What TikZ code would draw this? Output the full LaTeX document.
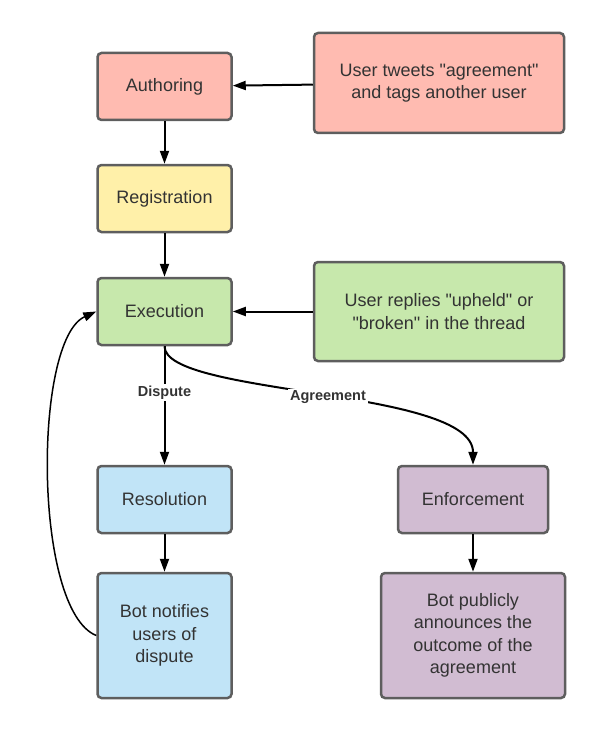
\documentclass[tikz,border=0pt]{standalone}
\usepackage{fontspec}
\setmainfont{Liberation Sans}[Ligatures=TeXOff]
\usetikzlibrary{arrows.meta}

\definecolor{boxred}{HTML}{FFBBB1}
\definecolor{boxyellow}{HTML}{FFF0A9}
\definecolor{boxgreen}{HTML}{C7E8AC}
\definecolor{boxblue}{HTML}{C1E4F7}
\definecolor{boxpurple}{HTML}{D1BCD2}
\definecolor{boxline}{HTML}{5E5E5E}
\definecolor{boxtext}{HTML}{333333}

\tikzset{
	stepbox/.style={draw=boxline, line width=2.5pt, rounded corners=4pt,
		text=boxtext, align=center, font=\fontsize{18}{22.5}\selectfont,
		inner sep=0pt},
	flow/.style={line width=2pt, -{Triangle[length=13pt,width=9pt]}},
	edgelabel/.style={fill=white, text=boxtext, inner sep=2pt,
		font=\bfseries\fontsize{14.5}{16}\selectfont}
}

\begin{document}
\begin{tikzpicture}[x=1pt,y=-1pt]

	\useasboundingbox (0,0) rectangle (597,733);

	% left column
	\node[stepbox, fill=boxred, minimum width=134pt, minimum height=67pt] (author) at (164.5,86.5) {Authoring};
	\node[stepbox, fill=boxyellow, minimum width=134pt, minimum height=67pt] (regist) at (164.5,198.5) {Registration};
	\node[stepbox, fill=boxgreen, minimum width=134pt, minimum height=67pt] (exec) at (164.5,311.5) {Execution};
	\node[stepbox, fill=boxblue, minimum width=134pt, minimum height=67pt] (resol) at (164.5,499.5) {Resolution};
	\node[stepbox, fill=boxblue, minimum width=134pt, minimum height=125pt] (notify) at (164.5,635.5) {Bot notifies\\users of\\dispute};

	% right column
	\node[stepbox, fill=boxred, minimum width=250pt, minimum height=100pt] (tweet) at (439,83) {User tweets "agreement"\\and tags another user};
	\node[stepbox, fill=boxgreen, minimum width=250pt, minimum height=99pt] (reply) at (439,311.5) {User replies "upheld" or\\"broken" in the thread};
	\node[stepbox, fill=boxpurple, minimum width=150pt, minimum height=67pt] (enforce) at (473,499.5) {Enforcement};
	\node[stepbox, fill=boxpurple, minimum width=184pt, minimum height=125pt] (announce) at (473,635.5) {Bot publicly\\announces the\\outcome of the\\agreement};

	% straight arrows
	\draw[flow] (tweet) -- (author);
	\draw[flow] (author) -- (regist);
	\draw[flow] (regist) -- (exec);
	\draw[flow] (reply) -- (exec);
	\draw[flow] (resol) -- (notify);
	\draw[flow] (enforce) -- (announce);

	% branches
	\draw[flow] (exec.south) -- node[edgelabel, pos=0.39] {Dispute} (resol.north);
	\draw[flow] (exec.south) .. controls (164.5,396) and (473,388) .. node[edgelabel, pos=0.52] {Agreement} (enforce.north);

	% back to execution
	\draw[line width=1.5pt, -{Triangle[length=13pt,width=9pt]}] (notify.west) .. controls (33,610) and (33,340) .. (exec.west);

\end{tikzpicture}
\end{document}
